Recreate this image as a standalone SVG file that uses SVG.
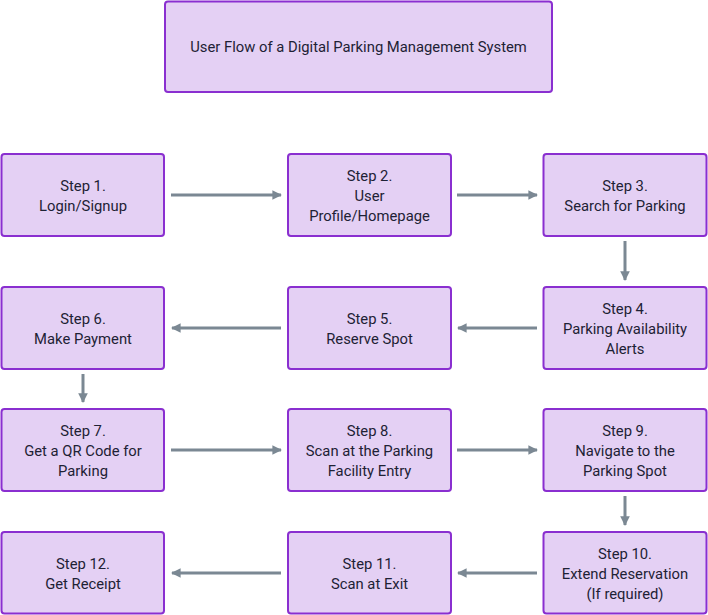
<svg xmlns="http://www.w3.org/2000/svg" width="708" height="615" viewBox="0 0 708 615">
<style>
.box{fill:#e4d0f4;stroke:#8a2fd0;stroke-width:2}
.t{font-family:Roboto,"Liberation Sans",sans-serif;font-size:14.8px;fill:#1e2235;text-anchor:middle}
.c{stroke:#7b8893;stroke-width:3;fill:none;marker-end:url(#ah)}
</style>
<defs>
<marker id="ah" viewBox="0 0 10 10" refX="9" refY="5" markerWidth="3.2" markerHeight="3.2" orient="auto" markerUnits="strokeWidth">
<path d="M0,0 L10,5 L0,10 Z" fill="#7b8893"/>
</marker>
</defs>
<g id="title"><rect class="box" x="165" y="1.5" width="387" height="90.5" rx="3"/><text class="t" x="358.5" y="52">User Flow of a Digital Parking Management System</text></g>
<g id="step1"><rect class="box" x="1.5" y="154" width="162.5" height="82" rx="3"/><text class="t" x="83" y="191">Step 1.</text><text class="t" x="83" y="211">Login/Signup</text></g>
<g id="step2"><rect class="box" x="288" y="154" width="163" height="82" rx="3"/><text class="t" x="369.5" y="181">Step 2.</text><text class="t" x="369.5" y="201">User</text><text class="t" x="369.5" y="221">Profile/Homepage</text></g>
<g id="step3"><rect class="box" x="543.5" y="154" width="163" height="82" rx="3"/><text class="t" x="625" y="191">Step 3.</text><text class="t" x="625" y="211">Search for Parking</text></g>
<g id="step4"><rect class="box" x="543.5" y="287" width="163" height="82" rx="3"/><text class="t" x="625" y="314">Step 4.</text><text class="t" x="625" y="334">Parking Availability</text><text class="t" x="625" y="354">Alerts</text></g>
<g id="step5"><rect class="box" x="288" y="287" width="163" height="82" rx="3"/><text class="t" x="369.5" y="324">Step 5.</text><text class="t" x="369.5" y="344">Reserve Spot</text></g>
<g id="step6"><rect class="box" x="1.5" y="287" width="162.5" height="82" rx="3"/><text class="t" x="83" y="324">Step 6.</text><text class="t" x="83" y="344">Make Payment</text></g>
<g id="step7"><rect class="box" x="1.5" y="409" width="162.5" height="82" rx="3"/><text class="t" x="83" y="436">Step 7.</text><text class="t" x="83" y="456">Get a QR Code for</text><text class="t" x="83" y="476">Parking</text></g>
<g id="step8"><rect class="box" x="288" y="409" width="163" height="82" rx="3"/><text class="t" x="369.5" y="436">Step 8.</text><text class="t" x="369.5" y="456">Scan at the Parking</text><text class="t" x="369.5" y="476">Facility Entry</text></g>
<g id="step9"><rect class="box" x="543.5" y="409" width="163" height="82" rx="3"/><text class="t" x="625" y="436">Step 9.</text><text class="t" x="625" y="456">Navigate to the</text><text class="t" x="625" y="476">Parking Spot</text></g>
<g id="step10"><rect class="box" x="543.5" y="532" width="163" height="81.5" rx="3"/><text class="t" x="625" y="559">Step 10.</text><text class="t" x="625" y="579">Extend Reservation</text><text class="t" x="625" y="599">(If required)</text></g>
<g id="step11"><rect class="box" x="288" y="532" width="163" height="81.5" rx="3"/><text class="t" x="369.5" y="569">Step 11.</text><text class="t" x="369.5" y="589">Scan at Exit</text></g>
<g id="step12"><rect class="box" x="1.5" y="532" width="162.5" height="81.5" rx="3"/><text class="t" x="83" y="569">Step 12.</text><text class="t" x="83" y="589">Get Receipt</text></g>
<g id="connectors">
<line class="c" x1="171" y1="195" x2="281" y2="195"/>
<line class="c" x1="457" y1="195" x2="537" y2="195"/>
<line class="c" x1="625" y1="241" x2="625" y2="280"/>
<line class="c" x1="537" y1="328" x2="458" y2="328"/>
<line class="c" x1="281" y1="328" x2="172" y2="328"/>
<line class="c" x1="83" y1="374" x2="83" y2="402"/>
<line class="c" x1="171" y1="450" x2="281" y2="450"/>
<line class="c" x1="457" y1="450" x2="537" y2="450"/>
<line class="c" x1="625" y1="496" x2="625" y2="525"/>
<line class="c" x1="537" y1="573" x2="458" y2="573"/>
<line class="c" x1="281" y1="573" x2="172" y2="573"/>
</g>
</svg>
